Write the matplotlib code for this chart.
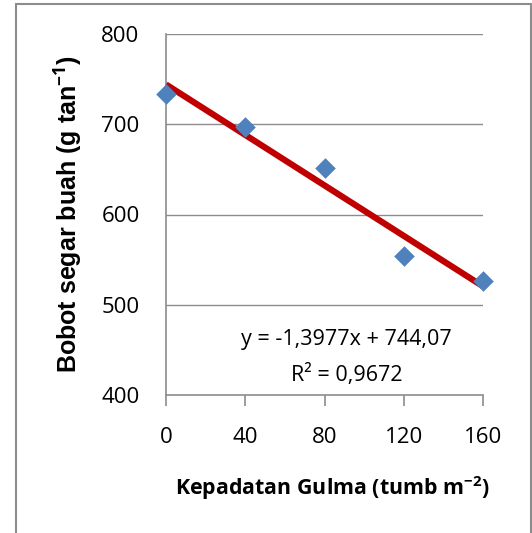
import matplotlib
matplotlib.use("Agg")
import matplotlib.pyplot as plt
import numpy as np
from matplotlib.patches import Rectangle

# ==================== Data ====================
density = [0, 40, 80, 120, 160]
fruit_weight = [734, 697, 651, 554, 526]
slope = -1.3977
intercept = 744.07
r_squared = 0.9672
x_ticks = [0, 40, 80, 120, 160]
y_ticks = [400, 500, 600, 700, 800]

plt.rcParams['font.family'] = ['Open Sans', 'DejaVu Sans']
plt.rcParams['mathtext.fontset'] = 'custom'
plt.rcParams['mathtext.rm'] = 'Open Sans'
plt.rcParams['mathtext.bf'] = 'Open Sans:bold'

fig = plt.figure(figsize=(5.32, 5.33), dpi=100)
ax = fig.add_axes([166 / 532, 1 - 395 / 533, (483 - 166) / 532, (395 - 34) / 533])

# outer chart frame
fig.patches.append(Rectangle((16 / 532, -0.01), (531 - 16) / 532, 1 - 4 / 533 + 0.01,
                             transform=fig.transFigure, fill=False,
                             edgecolor='#8c8c8c', linewidth=1.5))

ax.set_xlim(0, 160)
ax.set_ylim(400, 800)
for y in y_ticks[1:]:
    ax.axhline(y, color='#8c8c8c', linewidth=1.0, zorder=1)

# trend line
xs = np.array([density[0], density[-1]])
ax.plot(xs, slope * xs + intercept, color='#C00000', linewidth=4.5,
        solid_capstyle='butt', zorder=3, clip_on=False)
ax.scatter(density, fruit_weight, marker='D', s=110, color='#4F81BD',
           zorder=4, clip_on=False, linewidths=0)

eq = f'y = {slope}x + {intercept}'.replace('.', ',')
ax.text(91, 461, eq, ha='center', va='center', fontsize=15.5)
ax.text(91, 422, f'R² = {r_squared}'.replace('.', ','), ha='center', va='center',
        fontsize=15.5)

for s in ['top', 'right']:
    ax.spines[s].set_visible(False)
ax.spines['left'].set_color('#8c8c8c')
ax.spines['bottom'].set_color('#8c8c8c')
ax.spines['left'].set_linewidth(1.2)
ax.spines['bottom'].set_linewidth(1.2)

ax.set_xticks(x_ticks)
ax.set_yticks(y_ticks)
ax.tick_params(axis='x', length=8, width=1.2, color='#8c8c8c', pad=15, labelsize=16)
ax.tick_params(axis='y', length=0, pad=19, labelsize=16)

ax.set_xlabel(r'Kepadatan Gulma (tumb m$^{\mathbf{-2}}$)', fontsize=15.4,
              fontweight='bold', labelpad=19)
ax.xaxis.label.set_x(0.525)
ax.set_ylabel('Bobot segar buah (g tan$^{\\mathbf{-1}}$)', fontsize=18,
              fontweight='bold', labelpad=12, family='Liberation Sans')

fig.savefig('out.png', dpi=100, facecolor='white')
